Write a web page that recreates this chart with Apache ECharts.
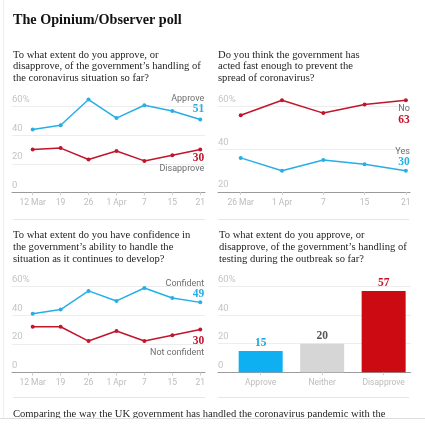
<!DOCTYPE html>
<html><head><meta charset="utf-8">
<script src="https://cdn.jsdelivr.net/npm/echarts@6/dist/echarts.min.js"></script>
<style>html,body{margin:0;padding:0;background:#fff}#c{width:425px;height:426px}</style>
</head><body><div id="c"></div>
<script>
// ---- data ----
const dates1 = ['12 Mar', '19', '26', '1 Apr', '7', '15', '21'];
const approve = [44, 47, 65, 52, 61, 57, 51];
const disapprove = [30, 31, 23, 29, 22, 26, 30];
const dates2 = ['26 Mar', '1 Apr', '7', '15', '21'];
const no = [56, 63, 57, 61, 63];
const yes = [36, 30, 35, 33, 30];
const confident = [41, 44, 57, 50, 59, 52, 49];
const notConfident = [32, 32, 22, 29, 22, 26, 30];
const testingCats = ['Approve', 'Neither', 'Disapprove'];
const testingVals = [15, 20, 57];

const mainTitle = 'The Opinium/Observer poll';
const questions = [
  'To what extent do you approve, or\ndisapprove, of the government\u2019s handling of\nthe coronavirus situation so far?',
  'Do you think the government has\nacted fast enough to prevent the\nspread of coronavirus?',
  'To what extent do you have confidence in\nthe government\u2019s ability to handle the\nsituation as it continues to develop?',
  'To what extent do you approve, or\ndisapprove, of the government\u2019s handling of\ntesting during the outbreak so far?'
];
const footerText = 'Comparing the way the UK government has handled the coronavirus pandemic with the';

// ---- style ----
const BLUE = '#26afe6', RED = '#c0152b';
const BAR_COLORS = ['#0fb0f2', '#d6d6d6', '#cc0a11'];
const BAR_LABEL_COLORS = ['#1aa6e0', '#555555', '#c0152b'];
const SERIF = '"Liberation Serif", serif';
const SANS = 'Roboto, sans-serif';

const grids = [
  {left: 12, top: 106.7, width: 193, height: 85.6},
  {left: 218, top: 106.7, width: 192, height: 85.3},
  {left: 12, top: 286.6, width: 193, height: 86},
  {left: 218, top: 286.6, width: 192.7, height: 85.7}
];

function xAxisFor(gi, labels, min, max) {
  const idx = labels.map((_, i) => i);
  return {
    type: 'value', gridIndex: gi, min: min, max: max,
    axisLine: {show: true, lineStyle: {color: '#9a9a9a', width: 1}},
    axisTick: {show: true, customValues: idx, length: 3, lineStyle: {color: '#cfcfcf'}},
    splitLine: {show: false},
    axisLabel: {
      customValues: idx, margin: 6, color: '#bcbcbc', fontFamily: SANS, fontSize: 8.5,
      formatter: v => labels[Math.round(v)]
    }
  };
}
function yAxisFor(gi, min) {
  return {
    type: 'value', gridIndex: gi, min: min, max: 60, interval: 20,
    axisLine: {show: false}, axisTick: {show: false},
    splitLine: {show: true, lineStyle: {color: '#ededed', width: 1}},
    axisLabel: {
      inside: true, margin: 0, verticalAlign: 'bottom', padding: [0, 0, 2, 0],
      color: '#c4c4c4', fontFamily: SANS, fontSize: 9.5,
      formatter: v => (v === 60 ? '60%' : String(v))
    }
  };
}

function lineSeries(gi, name, values, color, lab) {
  const last = values.length - 1;
  const data = values.map((v, i) => {
    if (i !== last) return [i, v];
    const txt = lab.nameFirst ? '{n|' + name + '}\n{v|' + v + '}' : '{v|' + v + '}\n{n|' + name + '}';
    return {
      value: [i, v],
      label: {
        show: true, position: lab.pos, distance: lab.dist, align: 'right', offset: [4, 0],
        formatter: txt,
        rich: {
          n: {fontFamily: SANS, fontSize: 9, color: '#6e6e6e', lineHeight: lab.lh, align: 'right'},
          v: {fontFamily: SERIF, fontSize: 11.5, fontWeight: 'bold', color: color, lineHeight: lab.lh, align: 'right'}
        }
      }
    };
  });
  return {
    type: 'line', name: name, xAxisIndex: gi, yAxisIndex: gi, data: data, clip: false,
    symbol: 'circle', symbolSize: 4, itemStyle: {color: color},
    lineStyle: {color: color, width: 1.5}, animation: false
  };
}

function qTitle(text, left, top) {
  return {
    text: text, left: left, top: top, padding: 0,
    textStyle: {fontFamily: SERIF, fontSize: 10.6, fontWeight: 'normal', color: '#1e1e1e', lineHeight: 11.8}
  };
}

const option = {
  backgroundColor: '#ffffff',
  animation: false,
  title: [
    {text: mainTitle, left: 13, top: 12, padding: 0,
     textStyle: {fontFamily: SERIF, fontSize: 14.2, fontWeight: 'bold', color: '#121212', lineHeight: 16}},
    qTitle(questions[0], 13, 49),
    qTitle(questions[1], 218, 49),
    qTitle(questions[2], 13, 229.8),
    qTitle(questions[3], 219, 229.8),
    {text: footerText, left: 13, top: 407.8, padding: 0,
     textStyle: {fontFamily: SERIF, fontSize: 10.6, fontWeight: 'normal', color: '#1e1e1e', lineHeight: 12.5}}
  ],
  grid: grids,
  xAxis: [
    xAxisFor(0, dates1, -0.741, 6.17),
    xAxisFor(1, dates2, -0.55, 4.10),
    xAxisFor(2, dates1, -0.741, 6.17),
    xAxisFor(3, testingCats, -0.694, 2.44)
  ],
  yAxis: [yAxisFor(0, 0), yAxisFor(1, 20), yAxisFor(2, 0), yAxisFor(3, 0)],
  series: [
    lineSeries(0, 'Approve', approve, BLUE, {pos: 'top', dist: 3.4, nameFirst: true, lh: 10.5}),
    lineSeries(0, 'Disapprove', disapprove, RED, {pos: 'bottom', dist: 1, nameFirst: false, lh: 10.5}),
    lineSeries(1, 'No', no, RED, {pos: 'bottom', dist: 0.7, nameFirst: true, lh: 11.5}),
    lineSeries(1, 'Yes', yes, BLUE, {pos: 'top', dist: 1.5, nameFirst: true, lh: 10.5}),
    lineSeries(2, 'Confident', confident, BLUE, {pos: 'top', dist: 0.8, nameFirst: true, lh: 10.6}),
    lineSeries(2, 'Not confident', notConfident, RED, {pos: 'bottom', dist: 3.2, nameFirst: false, lh: 12}),
    {
      type: 'bar', xAxisIndex: 3, yAxisIndex: 3, barWidth: 44, animation: false,
      data: testingVals.map((v, i) => ({
        value: [i, v],
        itemStyle: {color: BAR_COLORS[i]},
        label: {show: true, position: 'top', distance: 2, color: BAR_LABEL_COLORS[i],
                fontFamily: SERIF, fontSize: 11.5, fontWeight: 'bold'}
      }))
    }
  ],
  graphic: [
    {type: 'line', shape: {x1: 3.5, y1: 0, x2: 3.5, y2: 426}, style: {stroke: '#eeeeee', lineWidth: 1}, silent: true},
    {type: 'line', shape: {x1: 13, y1: 219.5, x2: 205, y2: 219.5}, style: {stroke: '#e6e6e6', lineWidth: 1}, silent: true},
    {type: 'line', shape: {x1: 218, y1: 219.5, x2: 409, y2: 219.5}, style: {stroke: '#e6e6e6', lineWidth: 1}, silent: true},
    {type: 'line', shape: {x1: 13, y1: 397.5, x2: 205, y2: 397.5}, style: {stroke: '#e6e6e6', lineWidth: 1}, silent: true},
    {type: 'line', shape: {x1: 218, y1: 397.5, x2: 409, y2: 397.5}, style: {stroke: '#e6e6e6', lineWidth: 1}, silent: true},
    {type: 'rect', z: 100, shape: {x: 0, y: 418, width: 425, height: 8}, style: {fill: '#ffffff', stroke: null}, silent: true},
    {type: 'line', z: 101, shape: {x1: 0, y1: 418.5, x2: 425, y2: 418.5}, style: {stroke: '#dddddd', lineWidth: 1}, silent: true}
  ]
};

const chart = echarts.init(document.getElementById('c'), null, {renderer: 'canvas'});
chart.setOption(option);
</script>
</body></html>
